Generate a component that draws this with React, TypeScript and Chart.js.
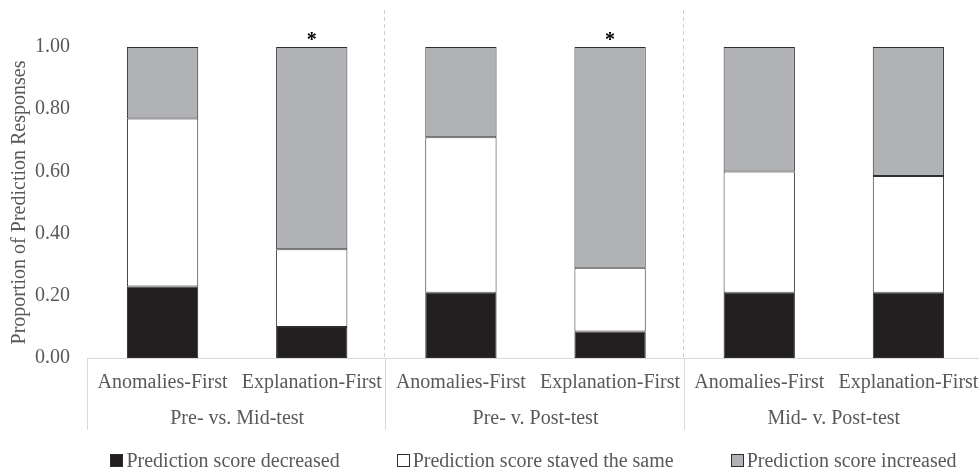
import React, { useEffect, useRef } from "react";
import { Chart, registerables } from "chart.js";

Chart.register(...registerables);

// ---- data ----
const categories = [
  "Anomalies-First",
  "Explanation-First",
  "Anomalies-First",
  "Explanation-First",
  "Anomalies-First",
  "Explanation-First",
];
const groups = ["Pre- vs. Mid-test", "Pre- v. Post-test", "Mid- v. Post-test"];
const seriesLabels = [
  "Prediction score decreased",
  "Prediction score stayed the same",
  "Prediction score increased",
];
const decreased = [0.23, 0.1, 0.21, 0.085, 0.21, 0.21];
const stayedSame = [0.54, 0.25, 0.5, 0.205, 0.39, 0.375];
const increased = [0.23, 0.65, 0.29, 0.71, 0.4, 0.415];
const significance = ["", "*", "", "*", "", ""];
const yTickValues = [0, 0.2, 0.4, 0.6, 0.8, 1.0];

// ---- styles ----
const FONT = "'Liberation Serif', 'Times New Roman', serif";
const TEXT = "#595959";
const LINE = "#d9d9d9";
const COLORS = ["#231f20", "#ffffff", "#b1b2b5"];
const BORDER = "#2e2e2e";

const decorPlugin = {
  id: "decor",
  beforeDatasetsDraw(chart: any) {
    const { ctx, chartArea, scales } = chart;
    const x = scales.x;
    ctx.save();
    ctx.strokeStyle = "#d0d0d0";
    ctx.lineWidth = 1;
    ctx.setLineDash([4, 3]);
    for (let g = 1; g < groups.length; g++) {
      const bx =
        Math.round((x.getPixelForValue(2 * g - 1) + x.getPixelForValue(2 * g)) / 2) - 2 + 0.5;
      ctx.beginPath();
      ctx.moveTo(bx, chartArea.top - 37);
      ctx.lineTo(bx, chartArea.bottom);
      ctx.stroke();
    }
    ctx.restore();
  },
  afterDraw(chart: any) {
    const { ctx, chartArea, scales } = chart;
    const x = scales.x;
    ctx.save();
    // solid separators in the label area
    ctx.strokeStyle = LINE;
    ctx.lineWidth = 1;
    const seps = [chartArea.left];
    for (let g = 1; g < groups.length; g++) {
      seps.push((x.getPixelForValue(2 * g - 1) + x.getPixelForValue(2 * g)) / 2);
    }
    seps.forEach((sx) => {
      const px = Math.round(sx) - 0.5;
      ctx.beginPath();
      ctx.moveTo(px, chartArea.bottom);
      ctx.lineTo(px, chartArea.bottom + 72);
      ctx.stroke();
    });
    // group labels
    ctx.fillStyle = TEXT;
    ctx.font = `20px ${FONT}`;
    ctx.textAlign = "center";
    ctx.textBaseline = "alphabetic";
    groups.forEach((g, i) => {
      const cx = (x.getPixelForValue(2 * i) + x.getPixelForValue(2 * i + 1)) / 2;
      ctx.fillText(g, cx, chartArea.bottom + 66);
    });
    // significance markers
    const meta = chart.getDatasetMeta(2);
    ctx.fillStyle = "#000000";
    ctx.font = `bold 20px ${FONT}`;
    significance.forEach((s, i) => {
      if (!s) return;
      const el = meta.data[i];
      ctx.fillText(s, el.x, el.y - 1);
    });
    // legend
    ctx.font = `20px ${FONT}`;
    ctx.textAlign = "left";
    const box = 13;
    const gap = 3;
    const spacing = 57;
    const widths = seriesLabels.map((l) => ctx.measureText(l).width);
    const total =
      widths.reduce((a, b) => a + b, 0) +
      seriesLabels.length * (box + gap) +
      spacing * (seriesLabels.length - 1);
    let lx = (chartArea.left + chartArea.right) / 2 - 2 - total / 2;
    const baseY = chart.height - 1;
    seriesLabels.forEach((l, i) => {
      const bx = Math.round(lx);
      ctx.fillStyle = COLORS[i];
      ctx.fillRect(bx, baseY - box, box, box);
      ctx.strokeStyle = BORDER;
      ctx.lineWidth = 1;
      ctx.strokeRect(bx + 0.5, baseY - box + 0.5, box - 1, box - 1);
      ctx.fillStyle = TEXT;
      ctx.fillText(l, lx + box + gap, baseY);
      lx += box + gap + widths[i] + spacing;
    });
    ctx.restore();
  },
};

export default function App() {
  const ref = useRef<HTMLCanvasElement | null>(null);
  useEffect(() => {
    if (!ref.current) return;
    const sets = [decreased, stayedSame, increased];
    const chart = new Chart(ref.current, {
      type: "bar",
      data: {
        labels: categories,
        datasets: sets.map((d, i) => ({
          label: seriesLabels[i],
          data: d,
          backgroundColor: COLORS[i],
          borderColor: BORDER,
          borderWidth: 1,
          borderSkipped: false,
          barPercentage: 0.478,
          categoryPercentage: 1,
        })),
      },
      options: {
        responsive: false,
        animation: false,
        layout: { padding: { top: 47, left: 0, right: 0, bottom: 38 } },
        plugins: {
          legend: { display: false },
          tooltip: { enabled: false },
        },
        scales: {
          x: {
            stacked: true,
            grid: { display: false, drawTicks: false },
            border: { display: true, color: LINE, width: 1 },
            ticks: {
              color: TEXT,
              font: { family: FONT, size: 20 },
              padding: 13,
              maxRotation: 0,
              autoSkip: false,
            },
            afterFit: (scale: any) => {
              scale.height = 72;
              scale.paddingLeft = 0;
              scale.paddingRight = 0;
            },
          },
          y: {
            stacked: true,
            min: 0,
            max: 1,
            afterBuildTicks: (scale: any) => {
              scale.ticks = yTickValues.map((v) => ({ value: v }));
            },
            grid: { display: false, drawTicks: false },
            border: { display: false },
            ticks: {
              color: TEXT,
              font: { family: FONT, size: 20 },
              padding: 18,
              callback: (v: any) => Number(v).toFixed(2),
            },
            title: {
              display: true,
              text: "Proportion of Prediction Responses",
              color: TEXT,
              font: { family: FONT, size: 20 },
              padding: { top: 8, bottom: 0 },
            },
            afterFit: (scale: any) => {
              scale.width = 88;
            },
          },
        },
      },
      plugins: [decorPlugin],
    });
    return () => chart.destroy();
  }, []);
  return (
    <div
      style={{
        position: "fixed",
        left: 0,
        top: 0,
        width: 979,
        height: 468,
        overflow: "hidden",
        background: "#fff",
      }}
    >
      <canvas ref={ref} width={983} height={468} style={{ display: "block" }} />
    </div>
  );
}
